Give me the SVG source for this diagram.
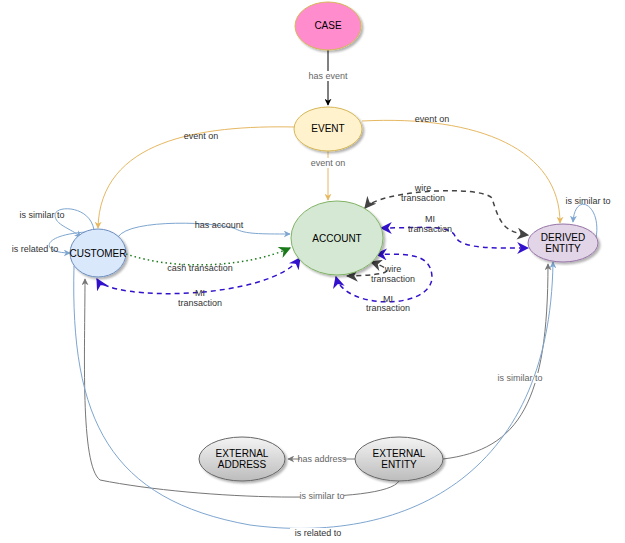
<svg xmlns="http://www.w3.org/2000/svg" width="625" height="543" viewBox="0 0 625 543">
<defs>
<marker id="ab" viewBox="0 0 10 10" refX="9" refY="5" markerWidth="7" markerHeight="7" orient="auto-start-reverse"><path d="M0,0L10,5L0,10L3,5z" fill="context-stroke"/></marker>
<marker id="k" viewBox="0 0 10 10" refX="9" refY="5" markerWidth="7" markerHeight="7" orient="auto-start-reverse"><path d="M0,0L10,5L0,10L3,5z" fill="#000"/></marker>
<marker id="o" viewBox="0 0 10 10" refX="9" refY="5" markerWidth="7" markerHeight="7" orient="auto"><path d="M0,0L10,5L0,10L3,5z" fill="#e6b862"/></marker>
<marker id="b" viewBox="0 0 10 10" refX="9" refY="5" markerWidth="7" markerHeight="7" orient="auto"><path d="M0,0L10,5L0,10L3,5z" fill="#7ea6d0"/></marker>
<marker id="g" viewBox="0 0 10 10" refX="9" refY="5" markerWidth="7" markerHeight="7" orient="auto"><path d="M0,0L10,5L0,10L3,5z" fill="#777"/></marker>
<marker id="gr" viewBox="0 0 10 10" refX="9" refY="5" markerWidth="8" markerHeight="8" orient="auto"><path d="M0,0L10,5L0,10L3,5z" fill="#1a7a1a"/></marker>
<marker id="p" viewBox="0 0 10 10" refX="9" refY="5" markerWidth="8" markerHeight="8" orient="auto-start-reverse"><path d="M0,0L10,5L0,10L3,5z" fill="#3311cc"/></marker>
<marker id="d" viewBox="0 0 10 10" refX="9" refY="5" markerWidth="8" markerHeight="8" orient="auto-start-reverse"><path d="M0,0L10,5L0,10L3,5z" fill="#444"/></marker>
<linearGradient id="gg" x1="0" y1="0" x2="0" y2="1"><stop offset="0" stop-color="#f4f4f4"/><stop offset="1" stop-color="#bcbcbc"/></linearGradient>
<filter id="sh"><feDropShadow dx="2" dy="2" stdDeviation="1" flood-opacity="0.3"/></filter>
</defs>
<style>
text{font-family:"Liberation Sans",Arial,sans-serif;font-size:9px;text-anchor:middle}
.n{font-size:10px;fill:#000}
.l{fill:#333}
.lg{fill:#666}
.e{fill:none}
ellipse{filter:url(#sh)}
</style>
<g id="connectors">
<path class="e" d="M328,50L328,105" stroke="#000" marker-end="url(#k)"/>
<rect x="308" y="71" width="40" height="10" fill="#fff"/><text x="328" y="79" class="lg">has event</text>
<path class="e" d="M295,127C200,125 100,140 98,228" stroke="#e6b862" marker-end="url(#o)"/>
<text x="201" y="139" class="l">event on</text>
<path class="e" d="M328,151L328,200" stroke="#e6b862" marker-end="url(#o)"/>
<rect x="309" y="158" width="38" height="10" fill="#fff"/><text x="328" y="166" class="lg">event on</text>
<path class="e" d="M362,121C480,115 560,150 560,223" stroke="#e6b862" marker-end="url(#o)"/>
<text x="432" y="122" class="l">event on</text>
<path class="e" d="M118,237C130,218 220,222 236,229C245,234 260,234 290,234" stroke="#7ea6d0" marker-end="url(#b)"/>
<text x="219" y="228" class="l">has account</text>
<path class="e" d="M126,254C180,272 250,266 290,248" stroke="#1a7a1a" stroke-width="1.5" stroke-dasharray="1.5,3" marker-end="url(#gr)"/>
<text x="200" y="271" class="l">cash transaction</text>
<path class="e" d="M97,279C110,302 270,300 300,258" stroke="#3311cc" stroke-width="1.5" stroke-dasharray="5,4" marker-start="url(#p)" marker-end="url(#p)"/>
<text x="200" y="296" class="l">MI</text><text x="200" y="306" class="l">transaction</text>
<path class="e" d="M365,208C380,190 480,185 492,198C500,225 505,232 528,235" stroke="#444" stroke-width="1.5" stroke-dasharray="5,4" marker-start="url(#d)" marker-end="url(#d)"/>
<text x="423" y="191" class="l">wire</text><text x="423" y="201" class="l">transaction</text>
<path class="e" d="M381,228C420,228 450,224 455,236C460,250 500,248 528,248" stroke="#3311cc" stroke-width="1.5" stroke-dasharray="5,4" marker-start="url(#p)" marker-end="url(#p)"/>
<text x="430" y="222" class="l">MI</text><text x="430" y="232" class="l">transaction</text>
<path class="e" d="M371,262C395,270 395,275 347,276" stroke="#444" stroke-width="1.5" stroke-dasharray="5,4" marker-start="url(#d)" marker-end="url(#d)"/>
<text x="393" y="272" class="l">wire</text><text x="393" y="282" class="l">transaction</text>
<path class="e" d="M336,277C345,310 430,310 432,278C432,250 400,255 376,254" stroke="#3311cc" stroke-width="1.5" stroke-dasharray="5,4" marker-start="url(#p)" marker-end="url(#p)"/>
<text x="388" y="302" class="l">MI</text><text x="388" y="311" class="l">transaction</text>
<path class="e" d="M596,238C602,205 575,190 573,222" stroke="#7ea6d0" marker-end="url(#b)"/>
<text x="588" y="204" class="l">is similar to</text>
<path class="e" d="M94,230C90,205 55,205 55,215C55,225 70,228 81,237" stroke="#7ea6d0" marker-end="url(#b)"/>
<text x="42" y="218" class="l">is similar to</text>
<path class="e" d="M86,232C40,235 40,253 70,253" stroke="#7ea6d0" marker-end="url(#b)"/>
<text x="35" y="252" class="l">is related to</text>
<path class="e" d="M355,459L288,459" stroke="#777" marker-end="url(#g)"/>
<rect x="300" y="454" width="44" height="10" fill="#fff"/><text x="322" y="462" class="lg">has address</text>
<path class="e" d="M443,459C520,450 548,400 548,264" stroke="#777" marker-end="url(#g)"/>
<rect x="498" y="373" width="44" height="10" fill="#fff"/><text x="520" y="381" class="lg">is similar to</text>
<path class="e" d="M399,481C385,505 200,500 100,480C80,465 85,350 85,279" stroke="#777" marker-end="url(#g)"/>
<rect x="300" y="491" width="44" height="10" fill="#fff"/><text x="322" y="499" class="lg">is similar to</text>
<path class="e" d="M74,266C70,420 110,500 250,525C400,545 550,480 553,262" stroke="#7ea6d0" marker-end="url(#b)"/>
<rect x="290" y="528" width="56" height="10" fill="#fff"/><text x="318" y="536" class="l">is related to</text>
</g>
<g id="case"><ellipse cx="328" cy="26" rx="33" ry="24" fill="#ff8ccc" stroke="#d6b656"/><text x="328" y="29" class="n">CASE</text></g>
<g id="event"><ellipse cx="328" cy="129" rx="34" ry="22" fill="#fff2cc" stroke="#d6b656"/><text x="328" y="132" class="n">EVENT</text></g>
<g id="account"><ellipse cx="337" cy="238" rx="46" ry="37" fill="#d5e8d4" stroke="#82b366"/><text x="337" y="242" class="n">ACCOUNT</text></g>
<g id="customer"><ellipse cx="98" cy="253" rx="28" ry="24" fill="#dae8fc" stroke="#6c8ebf"/><text x="98" y="257" class="n">CUSTOMER</text></g>
<g id="derived"><ellipse cx="563" cy="243" rx="35" ry="19" fill="#e1d5e7" stroke="#9673a6"/><text x="563" y="241" class="n">DERIVED</text><text x="563" y="252" class="n">ENTITY</text></g>
<g id="extaddr"><ellipse cx="242" cy="459" rx="43" ry="22" fill="url(#gg)" stroke="#666"/><text x="242" y="457" class="n">EXTERNAL</text><text x="242" y="468" class="n">ADDRESS</text></g>
<g id="extent"><ellipse cx="399" cy="459" rx="44" ry="22" fill="url(#gg)" stroke="#666"/><text x="399" y="457" class="n">EXTERNAL</text><text x="399" y="468" class="n">ENTITY</text></g>
</svg>
